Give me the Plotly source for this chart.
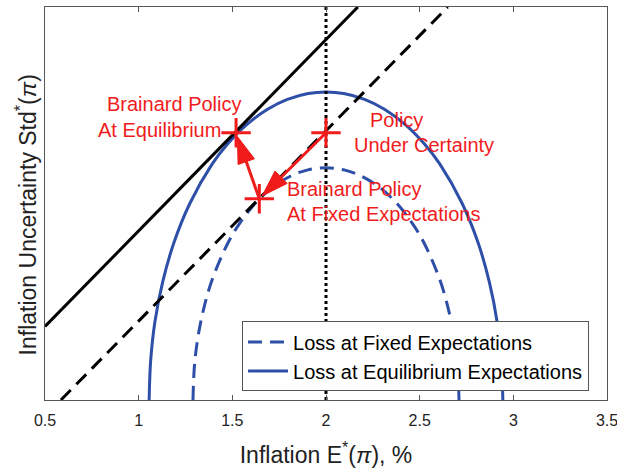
import plotly.graph_objects as go

# ---------------- data ----------------
x_ticks = [0.5, 1.0, 1.5, 2.0, 2.5, 3.0, 3.5]
x_tick_labels = ["0.5", "1", "1.5", "2", "2.5", "3", "3.5"]

# loss contour at equilibrium expectations (solid blue)
loss_eq_x = [1.056, 1.064, 1.087, 1.128, 1.188, 1.273, 1.392, 1.472, 1.575, 1.688,
             1.794, 1.905, 2.000, 2.095, 2.206, 2.312, 2.425, 2.528, 2.608, 2.727,
             2.812, 2.872, 2.913, 2.936, 2.944]
loss_eq_y = [0.000, 0.100, 0.200, 0.300, 0.400, 0.500, 0.600, 0.650, 0.700, 0.740,
             0.765, 0.780, 0.784, 0.780, 0.765, 0.740, 0.700, 0.650, 0.600, 0.500,
             0.400, 0.300, 0.200, 0.100, 0.000]

# loss contour at fixed expectations (dashed blue)
loss_fixed_x = [1.290, 1.300, 1.332, 1.388, 1.477, 1.540, 1.621, 1.711, 1.812, 1.899,
                2.000, 2.101, 2.188, 2.289, 2.379, 2.460, 2.523, 2.612, 2.668, 2.700, 2.710]
loss_fixed_y = [0.000, 0.100, 0.200, 0.300, 0.400, 0.450, 0.500, 0.540, 0.570, 0.585,
                0.591, 0.585, 0.570, 0.540, 0.500, 0.450, 0.400, 0.300, 0.200, 0.100, 0.000]

# frontier lines
eq_frontier_x = [0.5, 2.17]
eq_frontier_y = [0.187, 1.0]
fixed_frontier_x = [0.585, 2.65]
fixed_frontier_y = [0.0, 1.0]

# target inflation (vertical dotted line)
certainty_line_x = [2.0, 2.0]
certainty_line_y = [0.0, 1.0]

# policy points: Brainard at equilibrium, Brainard at fixed expectations, under certainty
policy_x = [1.52, 1.644, 2.0]
policy_y = [0.68, 0.512, 0.68]

legend_names = ["Loss at Fixed Expectations", "Loss at Equilibrium Expectations"]

# ---------------- figure ----------------
BLUE = "#2d4fa8"
RED = "#f01c1c"
FONT = "Liberation Sans, Arial, sans-serif"

fig = go.Figure()

fig.add_trace(go.Scatter(x=loss_fixed_x, y=loss_fixed_y, mode="lines",
                         line=dict(color=BLUE, width=3, dash="14px,8px", shape="spline"),
                         name=legend_names[0], showlegend=True, hoverinfo="skip"))
fig.add_trace(go.Scatter(x=loss_eq_x, y=loss_eq_y, mode="lines",
                         line=dict(color=BLUE, width=3, shape="spline"),
                         name=legend_names[1], showlegend=True, hoverinfo="skip"))

fig.add_trace(go.Scatter(x=eq_frontier_x, y=eq_frontier_y, mode="lines",
                         line=dict(color="black", width=3), showlegend=False,
                         hoverinfo="skip"))
fig.add_trace(go.Scatter(x=fixed_frontier_x, y=fixed_frontier_y, mode="lines",
                         line=dict(color="black", width=3, dash="14px,8px"),
                         showlegend=False, hoverinfo="skip"))
fig.add_trace(go.Scatter(x=certainty_line_x, y=certainty_line_y, mode="lines",
                         line=dict(color="black", width=3, dash="3px,3px"),
                         showlegend=False, hoverinfo="skip"))

# arrows: fixed -> equilibrium, certainty -> fixed
for a, b in [(1, 0), (2, 1)]:
    fig.add_trace(go.Scatter(
        x=[policy_x[a], policy_x[b]], y=[policy_y[a], policy_y[b]],
        mode="lines+markers",
        line=dict(color=RED, width=3),
        marker=dict(symbol=["circle", "arrow"], size=[0, 28], color=RED, opacity=1,
                    angleref="previous", standoff=4, line=dict(width=1, color=RED)),
        showlegend=False, hoverinfo="skip"))

fig.add_trace(go.Scatter(x=policy_x, y=policy_y, mode="markers",
                         marker=dict(symbol="cross-thin", size=21, opacity=1,
                                     line=dict(color=RED, width=3)),
                         showlegend=False, hoverinfo="skip"))

labels = [
    ("Brainard Policy", 0.820, 0.752),
    ("At Equilibrium", 0.772, 0.687),
    ("Policy", 2.224, 0.712),
    ("Under Certainty", 2.137, 0.648),
    ("Brainard Policy", 1.781, 0.537),
    ("At Fixed Expectations", 1.781, 0.474),
]
for txt, ax, ay in labels:
    fig.add_annotation(x=ax, y=ay, text=txt, showarrow=False, xanchor="left",
                       yanchor="middle", font=dict(color=RED, size=20, family=FONT))

# y-axis title (placed as rotated text to match the reference position)
fig.add_annotation(xref="paper", yref="paper", x=-0.034, y=0.472,
                   text="Inflation Uncertainty Std<sup>*</sup>(<i>π</i>)",
                   textangle=-90, showarrow=False, xanchor="center", yanchor="middle",
                   font=dict(size=23, color="#222222", family=FONT))

fig.update_layout(
    width=617, height=468,
    margin=dict(l=45, r=10, t=7, b=68, autoexpand=False),
    paper_bgcolor="white", plot_bgcolor="white",
    font=dict(family=FONT, color="black"),
    showlegend=True,
    hovermode=False,
    legend=dict(x=0.968, y=0.2, xanchor="right", yanchor="top",
                bgcolor="white", bordercolor="#555555", borderwidth=1,
                font=dict(size=20, color="black"), tracegroupgap=0,
                itemwidth=40),
    xaxis=dict(range=[0.5, 3.5], tickvals=x_ticks, ticktext=x_tick_labels,
               ticks="inside", ticklen=5, tickcolor="#555555", tickwidth=1,
               showline=True, linecolor="#555555", linewidth=1, mirror="ticks",
               showgrid=False, zeroline=False, automargin=False,
               ticklabeloverflow="allow", ticklabelstandoff=6,
               tickfont=dict(size=16, color="#222222"),
               title=dict(text="Inflation E<sup>*</sup>(<i>π</i>), %",
                          font=dict(size=23, color="#222222"), standoff=21)),
    yaxis=dict(range=[0, 1], showticklabels=False, ticks="",
               showline=True, linecolor="#555555", linewidth=1, mirror=True,
               showgrid=False, zeroline=False, automargin=False),
)

fig.write_html("out.html", config={"displayModeBar": False},
               post_script="document.body.style.margin='0';")
